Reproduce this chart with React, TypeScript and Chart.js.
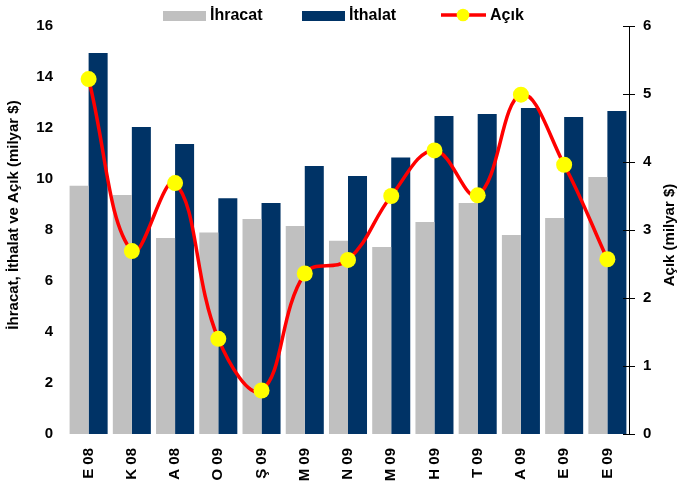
import React, { useEffect, useRef } from 'react';
import { Chart, registerables } from 'chart.js';

Chart.register(...registerables);

const categories = ['E 08', 'K 08', 'A 08', 'O 09', 'Ş 09', 'M 09', 'N 09', 'M 09', 'H 09', 'T 09', 'A 09', 'E 09', 'E 09'];
const ihracat = [9.74, 9.37, 7.69, 7.9, 8.43, 8.16, 7.58, 7.33, 8.31, 9.06, 7.8, 8.47, 10.08];
const ithalat = [14.94, 12.04, 11.37, 9.25, 9.06, 10.51, 10.12, 10.84, 12.47, 12.55, 12.78, 12.43, 12.67];
const acik = [5.22, 2.69, 3.69, 1.4, 0.64, 2.36, 2.56, 3.5, 4.17, 3.51, 4.99, 3.96, 2.57];

const seriesLabels = ['İhracat', 'İthalat', 'Açık'];
const leftTitle = 'İhracat, İthalat ve Açık (milyar $)';
const rightTitle = 'Açık (milyar $)';

const FONT = '"Liberation Sans", Arial, Helvetica, sans-serif';
const GRAY = '#C0C0C0';
const NAVY = '#003366';
const RED = '#FF0000';
const YELLOW = '#FFFF00';

const decorPlugin = {
  id: 'decor',
  afterDraw(chart: any) {
    const ctx = chart.ctx as CanvasRenderingContext2D;
    const y1 = chart.scales.y1;
    ctx.save();
    // crossing tick marks on right axis
    ctx.strokeStyle = '#000';
    ctx.lineWidth = 1;
    y1.ticks.forEach((t: any) => {
      const py = Math.round(y1.getPixelForValue(t.value)) + 0.5;
      ctx.beginPath();
      ctx.moveTo(y1.left - 6, py);
      ctx.lineTo(y1.left + 6, py);
      ctx.stroke();
    });
    // axis titles (reading bottom to top)
    ctx.fillStyle = '#000';
    ctx.font = `bold 15px ${FONT}`;
    ctx.textAlign = 'center';
    ctx.textBaseline = 'middle';
    const drawRot = (txt: string, x: number, y: number) => {
      ctx.save();
      ctx.translate(x, y);
      ctx.rotate(-Math.PI / 2);
      ctx.fillText(txt, 0, 0);
      ctx.restore();
    };
    drawRot(leftTitle, 14, 215);
    drawRot(rightTitle, 670, 235);
    // legend
    ctx.font = `bold 16px ${FONT}`;
    ctx.textAlign = 'left';
    const slot = 139;
    const x0 = 163;
    const ds = chart.data.datasets;
    // bars
    for (let i = 0; i < 2; i++) {
      const sx = x0 + i * slot;
      ctx.fillStyle = ds[i].backgroundColor;
      ctx.fillRect(sx, 11, 43, 10);
      ctx.fillStyle = '#000';
      ctx.fillText(ds[i].label, sx + 47, 16);
    }
    const lx = x0 + 2 * slot;
    ctx.strokeStyle = RED;
    ctx.lineWidth = 3.5;
    ctx.beginPath();
    ctx.moveTo(lx, 15);
    ctx.lineTo(lx + 45, 15);
    ctx.stroke();
    ctx.fillStyle = YELLOW;
    ctx.beginPath();
    ctx.arc(lx + 22, 15, 6.3, 0, Math.PI * 2);
    ctx.fill();
    ctx.fillStyle = '#000';
    ctx.fillText(ds[2].label, lx + 49, 16);
    ctx.restore();
  },
};

export default function App() {
  const ref = useRef<HTMLCanvasElement | null>(null);
  useEffect(() => {
    document.body.style.margin = '0';
    if (!ref.current) return;
    Chart.defaults.font.family = FONT;
    const chart = new Chart(ref.current, {
      type: 'bar',
      data: {
        labels: categories,
        datasets: [
          {
            type: 'bar',
            label: seriesLabels[0],
            data: ihracat,
            backgroundColor: GRAY,
            yAxisID: 'y',
            order: 1,
            categoryPercentage: 0.88,
            barPercentage: 1,
          },
          {
            type: 'bar',
            label: seriesLabels[1],
            data: ithalat,
            backgroundColor: NAVY,
            yAxisID: 'y',
            order: 1,
            categoryPercentage: 0.88,
            barPercentage: 1,
          },
          {
            type: 'line',
            label: seriesLabels[2],
            data: acik,
            borderColor: RED,
            borderWidth: 3.5,
            tension: 0.4,
            pointRadius: 8,
            pointBackgroundColor: YELLOW,
            pointBorderColor: YELLOW,
            pointBorderWidth: 0,
            yAxisID: 'y1',
            order: 0,
          } as any,
        ],
      },
      options: {
        animation: false,
        responsive: false,
        devicePixelRatio: 1,
        layout: { padding: { top: 26, left: 0, right: 0, bottom: 0 } },
        plugins: {
          legend: { display: false },
          tooltip: { enabled: false },
        },
        scales: {
          x: {
            grid: { display: false, drawTicks: false },
            border: { display: false },
            ticks: {
              minRotation: 90,
              maxRotation: 90,
              padding: 14,
              color: '#000',
              font: { size: 15, weight: 'bold' },
              autoSkip: false,
            },
            afterFit: (s: any) => {
              s.height = 55;
            },
          },
          y: {
            position: 'left',
            min: 0,
            max: 16,
            grid: { display: false, drawTicks: false },
            border: { display: false },
            ticks: {
              stepSize: 2,
              padding: 14,
              color: '#000',
              font: { size: 15, weight: 'bold' },
            },
            afterFit: (s: any) => {
              s.width = 67;
            },
          },
          y1: {
            position: 'right',
            min: 0,
            max: 6,
            grid: { display: false, drawTicks: false },
            border: { display: true, color: '#000', width: 1 },
            ticks: {
              stepSize: 1,
              padding: 14,
              color: '#000',
              font: { size: 15, weight: 'bold' },
            },
            afterFit: (s: any) => {
              s.width = 49;
            },
          },
        },
      } as any,
      plugins: [decorPlugin],
    });
    return () => chart.destroy();
  }, []);
  return <canvas ref={ref} width={678} height={489} style={{ display: 'block' }} />;
}
